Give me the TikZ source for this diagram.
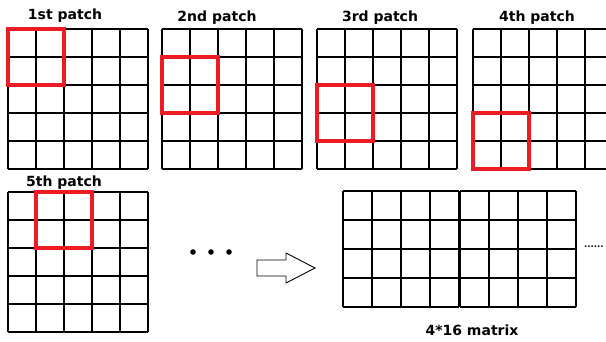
\documentclass[tikz,border=0pt]{standalone}
\usepackage{fontspec}
\setmainfont{DejaVu Sans}
\definecolor{patchred}{RGB}{237,28,36}
\begin{document}
\begin{tikzpicture}[
  x = 1pt, y = -1pt,
  every node/.style = {font=\bfseries\fontsize{14}{16}\selectfont, inner sep=1pt},
  cell/.style = {draw, line width=1.2pt},
  patchbox/.style = {draw=patchred, line width=3.2pt},
]
\useasboundingbox (0,0) rectangle (606,341);

% 5x5 inputs, given by their top-left corners
\foreach \gx/\gy in {8/29, 162/29, 317/29, 473/29, 8/192} {
  \foreach \i in {0,...,5} {
    \draw[cell] (\gx+28*\i, \gy) -- ++(0,140);
    \draw[cell] (\gx, \gy+28*\i) -- ++(140,0);
  }
}

% the 2x2 window of each patch
\foreach \px/\py in {8/29, 162/57, 317/85, 473/113, 36/192}
  \draw[patchbox] (\px,\py) rectangle ++(56,56);

\node (lbl1) at (65,16)  {1st patch};
\node (lbl2) at (217,18) {2nd patch};
\node (lbl3) at (380,18) {3rd patch};
\node (lbl4) at (537,18) {4th patch};
\node (lbl5) at (64,183) {5th patch};

\foreach \dx in {193, 211, 229}
  \fill (\dx,252) circle (2.8pt);

% hollow block arrow
\draw[line width=0.9pt] (257,260) -- (286,260) -- (286,253) -- (315,268)
  -- (286,283) -- (286,276) -- (257,276) -- cycle;

% result: two 4x4 blocks side by side
\foreach \bx in {343, 460} {
  \foreach \i in {0,...,4} {
    \draw[cell] (\bx+29*\i, 191) -- ++(0,116);
    \draw[cell] (\bx, 191+29*\i) -- ++(116,0);
  }
}

\node (mat) at (472,330) {4*16 matrix};
\node[anchor=west, font=\bfseries\fontsize{8.5}{10}\selectfont] (more) at (583,247) {......};

\end{tikzpicture}
\end{document}
